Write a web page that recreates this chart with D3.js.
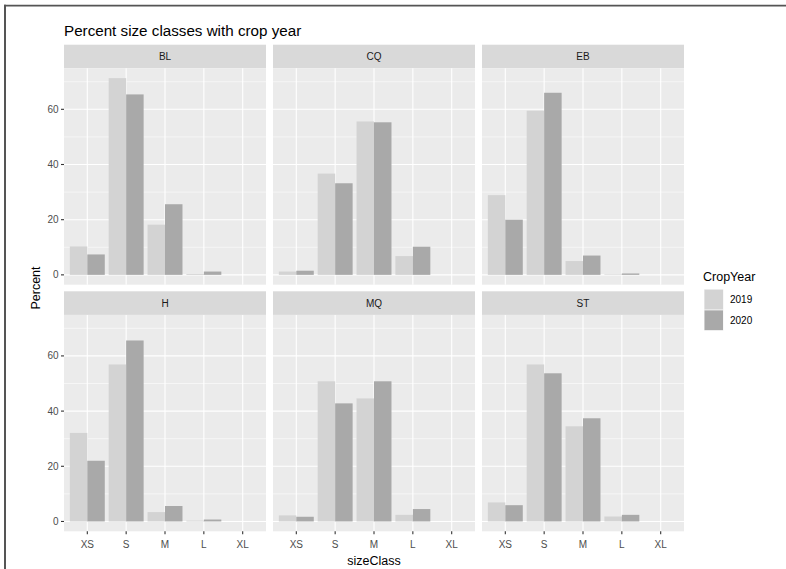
<!DOCTYPE html>
<html>
<head>
<meta charset="utf-8">
<script src="https://cdn.jsdelivr.net/npm/d3@7"></script>
<style>
  html, body { margin: 0; padding: 0; background: #ffffff; }
  svg { display: block; font-family: "Liberation Sans", Arial, sans-serif; }
</style>
</head>
<body>
<svg id="chart" width="786" height="569"></svg>
<script>
// ---- data ----
const title = "Percent size classes with crop year";
const sites = ["BL", "CQ", "EB", "H", "MQ", "ST"];
const sizeClasses = ["XS", "S", "M", "L", "XL"];
const years = ["2019", "2020"];
// percent per size class (XS, S, M, L, XL), one row per site
const pct2019 = [
  [10.3, 71.3, 18.2, 0.3, 0],
  [1.2, 36.7, 55.6, 6.8, 0],
  [28.9, 59.5, 5.0, 0.2, 0],
  [32.1, 56.9, 3.4, 0.3, 0],
  [2.2, 50.8, 44.6, 2.4, 0],
  [6.9, 56.9, 34.5, 1.8, 0]
];
const pct2020 = [
  [7.4, 65.4, 25.6, 1.2, 0],
  [1.5, 33.2, 55.3, 10.2, 0],
  [20.0, 66.0, 7.0, 0.5, 0],
  [22.0, 65.6, 5.6, 0.7, 0],
  [1.7, 42.8, 50.8, 4.5, 0],
  [5.9, 53.7, 37.4, 2.4, 0]
];
const yTicks = [0, 20, 40, 60];
const yMinor = [10, 30, 50, 70];
const fillColors = ["#D3D3D3", "#A9A9A9"];

// ---- layout ----
const svg = d3.select("#chart");
const colX = [64, 273, 482];
const stripTop = [44.7, 291.3];
const stripH = 23.6;
const panelW = 202, panelH = 216.4;
const tickLen = 3;

// border frame
svg.append("line").attr("x1", 4).attr("x2", 786).attr("y1", 5.6).attr("y2", 5.6)
  .attr("stroke", "#555").attr("stroke-width", 1.8);
svg.append("line").attr("x1", 5).attr("x2", 5).attr("y1", 4.7).attr("y2", 569)
  .attr("stroke", "#555").attr("stroke-width", 2);

// title
svg.append("text").attr("x", 64).attr("y", 35.5).text(title)
  .attr("font-size", 15.2).attr("fill", "#000");

// scales
const allVals = pct2019.flat().concat(pct2020.flat());
const yMax = d3.max(allVals);
const y = d3.scaleLinear()
  .domain([-yMax * 0.05, yMax * 1.05])
  .range([panelH, 0]);
const x = d3.scalePoint().domain(sizeClasses).range([0, panelW]).padding(0.6);
const step = x.step();
const xDodge = d3.scaleBand().domain(years).range([-0.45 * step, 0.45 * step]).padding(0);
const fill = d3.scaleOrdinal().domain(years).range(fillColors);

sites.forEach((site, si) => {
  const col = si % 3, row = Math.floor(si / 3);
  const px = colX[col];
  const sy = stripTop[row];
  const py = sy + stripH;

  // strip
  svg.append("rect").attr("x", px).attr("y", sy).attr("width", panelW).attr("height", stripH)
    .attr("fill", "#D9D9D9");
  svg.append("text").attr("x", px + panelW / 2).attr("y", sy + stripH / 2)
    .attr("text-anchor", "middle").attr("dominant-baseline", "central")
    .attr("font-size", 10).attr("fill", "#1A1A1A").text(site);

  const g = svg.append("g").attr("transform", `translate(${px},${py})`);
  g.append("rect").attr("width", panelW).attr("height", panelH).attr("fill", "#EBEBEB");

  // minor grid
  g.selectAll("line.minor").data(yMinor).enter().append("line")
    .attr("x1", 0).attr("x2", panelW)
    .attr("y1", d => y(d)).attr("y2", d => y(d))
    .attr("stroke", "#fff").attr("stroke-width", 0.55);
  // major grid
  g.selectAll("line.majy").data(yTicks).enter().append("line")
    .attr("x1", 0).attr("x2", panelW)
    .attr("y1", d => y(d)).attr("y2", d => y(d))
    .attr("stroke", "#fff").attr("stroke-width", 1.1);
  g.selectAll("line.majx").data(sizeClasses).enter().append("line")
    .attr("x1", d => x(d)).attr("x2", d => x(d))
    .attr("y1", 0).attr("y2", panelH)
    .attr("stroke", "#fff").attr("stroke-width", 1.1);

  // bars
  const rows = [];
  sizeClasses.forEach((sc, ci) => {
    rows.push({ sc, year: years[0], v: pct2019[si][ci] });
    rows.push({ sc, year: years[1], v: pct2020[si][ci] });
  });
  g.selectAll("rect.bar").data(rows.filter(d => d.v > 0)).enter().append("rect")
    .attr("x", d => x(d.sc) + xDodge(d.year))
    .attr("width", xDodge.bandwidth())
    .attr("y", d => y(d.v))
    .attr("height", d => y(0) - y(d.v))
    .attr("fill", d => fill(d.year));

  // y axis (left column)
  if (col === 0) {
    const ya = svg.append("g").attr("transform", `translate(${px},${py})`);
    yTicks.forEach(t => {
      ya.append("line").attr("x1", -tickLen).attr("x2", 0)
        .attr("y1", y(t)).attr("y2", y(t)).attr("stroke", "#333").attr("stroke-width", 1.1);
      ya.append("text").attr("x", -tickLen - 2.5).attr("y", y(t))
        .attr("text-anchor", "end").attr("dominant-baseline", "central")
        .attr("font-size", 10).attr("fill", "#4D4D4D").text(t);
    });
  }
  // x axis (bottom row)
  if (row === 1) {
    const xa = svg.append("g").attr("transform", `translate(${px},${py + panelH})`);
    sizeClasses.forEach(sc => {
      xa.append("line").attr("x1", x(sc)).attr("x2", x(sc))
        .attr("y1", 0).attr("y2", tickLen).attr("stroke", "#333").attr("stroke-width", 1.1);
      xa.append("text").attr("x", x(sc)).attr("y", tickLen + 14.2)
        .attr("text-anchor", "middle")
        .attr("font-size", 10).attr("fill", "#4D4D4D").text(sc);
    });
  }
});

// axis titles
const plotLeft = colX[0], plotRight = colX[2] + panelW;
svg.append("text").attr("x", (plotLeft + plotRight) / 2).attr("y", 565)
  .attr("text-anchor", "middle").attr("font-size", 12.5).attr("fill", "#000").text("sizeClass");
const midY = (stripTop[0] + stripTop[1] + stripH + panelH) / 2;
svg.append("text")
  .attr("transform", `translate(39.5,${midY}) rotate(-90)`)
  .attr("text-anchor", "middle").attr("font-size", 12.5).attr("fill", "#000").text("Percent");

// legend
const lg = svg.append("g").attr("transform", "translate(703,0)");
lg.append("text").attr("x", 0).attr("y", 281).attr("font-size", 12.5).attr("fill", "#000").text("CropYear");
const keyH = 20.7, keyW = 19.5, keyTop = 289.2;
years.forEach((yr, i) => {
  lg.append("rect").attr("x", 1).attr("y", keyTop + i * keyH)
    .attr("width", keyW).attr("height", keyH).attr("fill", "#F2F2F2");
  lg.append("rect").attr("x", 1.5).attr("y", keyTop + i * keyH + 0.5)
    .attr("width", keyW - 1).attr("height", keyH - 1).attr("fill", fill(yr));
  lg.append("text").attr("x", 27).attr("y", keyTop + i * keyH + keyH / 2)
    .attr("dominant-baseline", "central").attr("font-size", 10).attr("fill", "#000").text(yr);
});
</script>
</body>
</html>
